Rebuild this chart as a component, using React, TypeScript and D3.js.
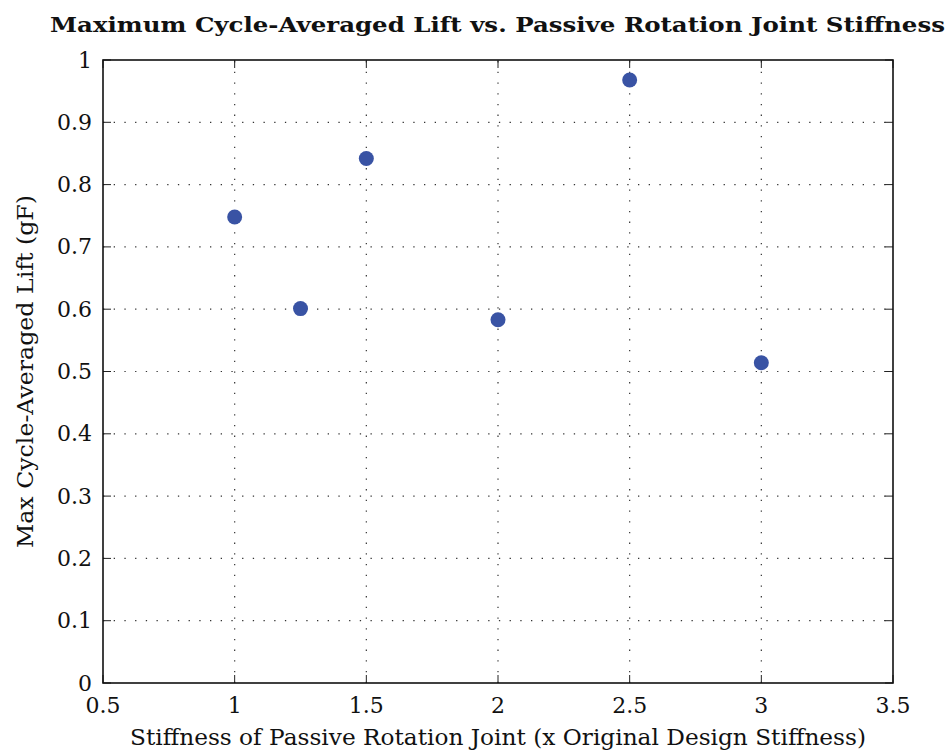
import * as d3 from 'd3';
import React from 'react';

// stiffness multiplier vs. max cycle-averaged lift
const stiffness = [1, 1.25, 1.5, 2, 2.5, 3];
const maxLift = [0.748, 0.601, 0.842, 0.583, 0.968, 0.514];

const xTicks = [0.5, 1, 1.5, 2, 2.5, 3, 3.5];
const yTicks = [0, 0.1, 0.2, 0.3, 0.4, 0.5, 0.6, 0.7, 0.8, 0.9, 1];

const title = 'Maximum Cycle-Averaged Lift vs. Passive Rotation Joint Stiffness';
const xLabel = 'Stiffness of Passive Rotation Joint (x Original Design Stiffness)';
const yLabel = 'Max Cycle-Averaged Lift (gF)';

const W = 950, H = 751;
const margin = { top: 60, right: 57, bottom: 68, left: 103 };
const FONT = "'DejaVu Serif', 'Liberation Serif', serif";

export default function App() {
  const x = d3.scaleLinear().domain([0.5, 3.5]).range([margin.left, W - margin.right]);
  const y = d3.scaleLinear().domain([0, 1]).range([H - margin.bottom, margin.top]);
  const [x0, x1] = x.range();
  const [y0, y1] = y.range();
  const tick = 8;

  return (
    <svg width={W} height={H} style={{ position: 'absolute', left: 0, top: 0, background: '#fff', fontFamily: FONT }}>
      <rect x={0} y={0} width={W} height={H} fill="#fff" />

      {/* grid */}
      <g stroke="#333" strokeWidth={1.2} strokeDasharray="1.3,9.4">
        {xTicks.slice(1, -1).map(t => (
          <line key={'gx' + t} x1={x(t)} x2={x(t)} y1={y0} y2={y1} />
        ))}
        {yTicks.slice(1, -1).map(t => (
          <line key={'gy' + t} x1={x0} x2={x1} y1={y(t)} y2={y(t)} />
        ))}
      </g>

      {/* inner ticks on all sides */}
      <g stroke="#222" strokeWidth={1}>
        {xTicks.map(t => (
          <g key={'tx' + t}>
            <line x1={x(t)} x2={x(t)} y1={y0} y2={y0 - tick} />
            <line x1={x(t)} x2={x(t)} y1={y1} y2={y1 + tick} />
          </g>
        ))}
        {yTicks.map(t => (
          <g key={'ty' + t}>
            <line x1={x0} x2={x0 + tick} y1={y(t)} y2={y(t)} />
            <line x1={x1} x2={x1 - tick} y1={y(t)} y2={y(t)} />
          </g>
        ))}
      </g>

      <rect x={x0} y={y1} width={x1 - x0} height={y0 - y1} fill="none" stroke="#111" strokeWidth={1.6} />

      {/* points */}
      <g fill="#3953a4">
        {stiffness.map((s, i) => (
          <circle key={i} cx={x(s)} cy={y(maxLift[i])} r={7.5} />
        ))}
      </g>

      {/* tick labels */}
      <g style={{ fontFamily: FONT }} fontSize={22} fill="#111">
        {xTicks.map(t => (
          <text key={'lx' + t} x={x(t)} y={713} textAnchor="middle">{d3.format('')(t)}</text>
        ))}
        {yTicks.map(t => (
          <text key={'ly' + t} x={92} y={y(t) + 7.5} textAnchor="end">{d3.format('')(t)}</text>
        ))}
      </g>

      <text x={50} y={32} style={{ fontFamily: FONT }} fontWeight="bold" fontSize={21} fill="#111"
        textLength={895} lengthAdjust="spacingAndGlyphs">{title}</text>
      <text x={130} y={745} style={{ fontFamily: FONT }} fontSize={22} fill="#111"
        textLength={736} lengthAdjust="spacingAndGlyphs">{xLabel}</text>
      <text transform="translate(33,548) rotate(-90)" style={{ fontFamily: FONT }} fontSize={22} fill="#111"
        textLength={353} lengthAdjust="spacingAndGlyphs">{yLabel}</text>
    </svg>
  );
}
